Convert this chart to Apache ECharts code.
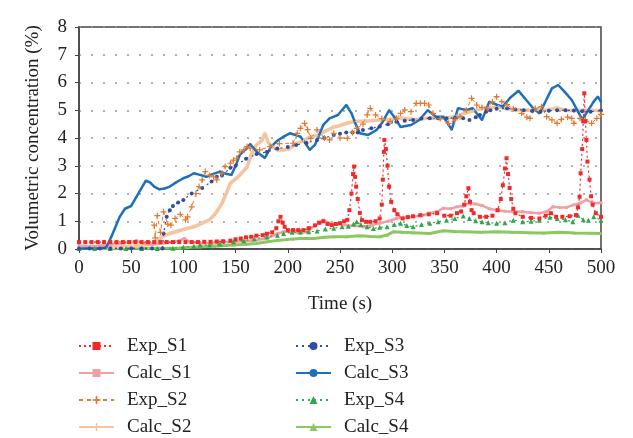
<!DOCTYPE html>
<html>
<head>
<meta charset="utf-8">
<script src="https://cdn.jsdelivr.net/npm/echarts@6/dist/echarts.min.js"></script>
<style>
html, body { margin: 0; padding: 0; background: #fff; }
#main { width: 633px; height: 438px; }
</style>
</head>
<body>
<div id="main"></div>
<script>
var dom = document.getElementById("main");
var myChart = echarts.init(dom);

// [time (s), volumetric concentration (%)]
var expS1 = [[0,0.25],[6,0.25],[12,0.25],[18,0.25],[24,0.25],[30,0.25],[36,0.25],[42,0.25],[48,0.25],[54,0.25],[60,0.25],[66,0.25],[72,0.25],[78,0.25],[84,0.25],[90,0.25],[96,0.25],[102,0.25],[108,0.25],[114,0.25],[120,0.26],[126,0.26],[132,0.27],[138,0.28],[145,0.3],[150,0.35],[155,0.38],[160,0.42],[165,0.44],[170,0.48],[176,0.5],[180,0.55],[185,0.6],[189,0.75],[191,1.0],[193,1.16],[195,0.95],[197,0.8],[200,0.68],[205,0.68],[210,0.68],[215,0.68],[220,0.75],[226,0.85],[230,0.95],[234,1.0],[238,0.9],[242,0.86],[246,0.9],[250,0.93],[254,1.0],[257,1.05],[259,1.4],[261,2.0],[262.5,2.7],[263.5,2.97],[264.5,2.6],[265.5,2.25],[267,1.8],[269,1.3],[271,1.04],[275,0.98],[279,0.98],[284,1.0],[288,1.1],[290,1.6],[291,2.5],[292,3.5],[292.5,3.93],[294,3.6],[295.5,3.0],[297,2.25],[299,1.7],[302,1.4],[305,1.25],[310,1.1],[315,1.15],[320,1.18],[327,1.22],[335,1.25],[343,1.29],[350,1.2],[356,1.2],[362,1.29],[366,1.35],[369,1.6],[371,1.9],[373,2.19],[374.5,1.7],[376,1.4],[378,1.29],[384,1.16],[390,1.16],[396,1.2],[401,1.4],[404,1.8],[406,2.3],[408,2.9],[409.5,3.27],[411,2.7],[412.5,2.2],[414,1.8],[416,1.45],[418,1.29],[425,1.16],[433,1.12],[441,1.1],[447,1.2],[452,1.29],[457,1.16],[463,1.16],[470,1.18],[476,1.22],[478,1.5],[479.5,1.88],[480.5,2.73],[482,3.6],[483,4.6],[484,5.61],[485,4.6],[486,3.93],[487,3.15],[489,2.5],[490.5,1.9],[492,1.6],[495,1.29],[500,1.16]];

var calcS1 = [[0,0.12],[10,0.1],[20,0.12],[30,0.15],[40,0.2],[50,0.25],[55,0.3],[60,0.22],[70,0.15],[80,0.2],[90,0.25],[96,0.3],[101,0.38],[106,0.25],[116,0.2],[130,0.22],[148,0.26],[165,0.3],[180,0.38],[190,0.55],[196,0.62],[204,0.62],[212,0.56],[220,0.65],[226,0.85],[231,0.93],[234,1.04],[240,0.93],[248,0.9],[256,0.86],[264,0.84],[272,0.8],[280,0.85],[288,0.93],[296,1.0],[304,1.1],[312,1.13],[320,1.16],[328,1.2],[336,1.29],[343,1.35],[349,1.47],[356,1.45],[362,1.52],[368,1.55],[374,1.65],[380,1.62],[386,1.57],[393,1.45],[400,1.4],[408,1.36],[416,1.34],[425,1.34],[433,1.31],[441,1.29],[448,1.35],[454,1.52],[460,1.5],[467,1.5],[474,1.59],[480,1.65],[486,1.77],[492,1.65],[500,1.67]];

var expS2 = [[72,0.86],[73,0.4],[75,1.2],[78,0.6],[81,1.34],[85,0.9],[88,0.86],[92,1.1],[97,1.25],[102,1.05],[104,1.16],[108,1.52],[112,2.0],[115,2.25],[118,2.49],[121,2.79],[125,2.65],[129,2.6],[132,2.49],[137,2.73],[140,2.97],[145,3.09],[148,3.2],[151,3.27],[154,3.5],[158,3.57],[161,3.69],[164,3.63],[173,3.57],[183,3.69],[192,3.8],[205,3.81],[209,4.17],[212,4.35],[216,4.53],[219,4.3],[222,3.99],[228,4.29],[235,4.0],[240,3.93],[244,4.17],[250,4.0],[257,3.99],[262,4.2],[266,4.35],[272,4.5],[276,4.83],[279,5.07],[284,4.83],[290,4.7],[298,4.59],[304,4.7],[308,4.89],[312,5.01],[318,4.95],[323,5.25],[327,5.25],[331,5.25],[335,5.19],[339,4.89],[346,4.7],[354,4.53],[360,4.65],[365,4.77],[371,5.0],[376,5.43],[381,5.19],[386,5.1],[391,5.07],[396,5.3],[400,5.49],[405,5.31],[410,5.2],[416,5.05],[424,4.89],[429,4.75],[432,4.71],[437,5.07],[443,5.13],[448,4.77],[453,4.65],[458,4.53],[462,4.67],[468,4.75],[472,4.71],[474,4.53],[480,4.71],[485,4.65],[491,4.53],[496,4.71],[500,4.85]];

var calcS2 = [[0,0.05],[30,0.05],[50,0.1],[60,0.12],[71,0.2],[80,0.45],[87,0.56],[95,0.65],[103,0.74],[110,0.8],[119,0.95],[125,1.05],[129,1.2],[133,1.4],[137,1.65],[141,2.0],[145,2.37],[151,2.55],[156,2.75],[161,2.95],[165,3.4],[170,3.75],[175,3.9],[178,4.17],[181,3.85],[185,3.69],[190,3.57],[196,3.57],[201,3.6],[208,3.8],[215,3.9],[222,4.05],[228,4.08],[236,4.25],[243,4.38],[250,4.45],[258,4.55],[266,4.6],[274,4.6],[282,4.63],[290,4.65],[298,4.68],[306,4.72],[314,4.7],[322,4.66],[330,4.7],[338,4.72],[346,4.7],[354,4.72],[362,4.8],[370,4.9],[378,4.98],[386,5.07],[394,5.1],[402,5.12],[410,5.05],[420,5.02],[430,5.0],[440,5.0],[450,5.02],[458,5.08],[466,5.0],[474,4.98],[482,5.0],[490,5.0],[500,4.98]];

var expS3 = [[0,0.02],[10,0.02],[20,0.02],[30,0.02],[40,0.02],[50,0.02],[60,0.02],[70,0.02],[80,0.02],[81,0.56],[84,1.16],[87,1.4],[90,1.55],[95,1.68],[100,1.77],[108,2.0],[118,2.2],[127,2.43],[132,2.6],[137,2.65],[145,2.93],[150,3.0],[160,3.25],[170,3.42],[180,3.5],[190,3.62],[200,3.68],[208,3.75],[218,3.82],[228,3.93],[235,4.0],[244,4.11],[250,4.15],[256,4.2],[262,4.2],[267,4.2],[272,4.29],[280,4.35],[288,4.41],[296,4.5],[304,4.59],[312,4.62],[320,4.65],[328,4.7],[336,4.71],[344,4.71],[352,4.71],[360,4.72],[368,4.71],[374,4.65],[380,4.75],[384,4.83],[390,4.95],[394,5.0],[400,5.05],[410,5.07],[418,5.03],[426,5.0],[434,4.97],[442,4.95],[450,4.98],[458,5.0],[466,5.0],[474,4.99],[482,4.96],[490,4.95],[500,4.99]];

var calcS3 = [[0,0.02],[10,0.02],[20,0.02],[26,0.05],[31,0.44],[39,1.16],[44,1.45],[50,1.55],[55,1.88],[60,2.2],[64,2.46],[68,2.4],[72,2.25],[77,2.15],[82,2.18],[87,2.25],[93,2.4],[100,2.55],[105,2.62],[110,2.73],[116,2.67],[122,2.6],[128,2.7],[135,2.79],[140,2.72],[146,2.67],[150,3.0],[154,3.39],[160,3.6],[164,3.78],[168,3.6],[172,3.45],[178,3.28],[184,3.69],[190,3.9],[196,4.05],[202,4.17],[212,4.05],[217,3.8],[221,3.57],[226,3.75],[234,4.47],[240,4.71],[248,4.83],[256,5.19],[261,4.89],[265,4.5],[269,4.17],[277,4.11],[285,4.29],[291,4.59],[297,5.0],[303,4.71],[308,4.4],[318,4.47],[326,4.65],[334,5.0],[342,4.77],[349,4.77],[357,4.3],[363,5.07],[371,5.01],[377,5.07],[386,4.65],[393,5.31],[400,5.2],[406,5.13],[413,5.45],[421,5.7],[427,5.43],[435,5.07],[441,4.89],[446,5.25],[453,5.79],[459,5.91],[465,5.67],[472,5.37],[478,4.95],[482,4.67],[488,5.01],[493,5.31],[497,5.49],[500,5.3]];

var expS4 = [[0,0.02],[15,0.02],[30,0.02],[45,0.02],[60,0.02],[75,0.02],[90,0.03],[100,0.06],[110,0.1],[116,0.14],[125,0.15],[135,0.18],[148,0.26],[158,0.3],[168,0.36],[180,0.44],[190,0.5],[196,0.56],[204,0.6],[212,0.62],[220,0.62],[228,0.65],[236,0.72],[244,0.75],[252,0.8],[258,0.82],[263,0.9],[266,0.98],[270,0.88],[276,0.8],[282,0.74],[288,0.78],[295,0.8],[302,0.88],[308,0.93],[314,0.85],[320,0.8],[328,0.88],[336,0.93],[344,0.98],[352,1.04],[360,1.1],[368,1.19],[374,1.1],[380,1.02],[386,0.98],[392,0.95],[400,0.93],[408,0.95],[416,1.04],[425,0.98],[433,1.0],[441,1.04],[451,1.14],[458,1.1],[466,1.05],[473,0.98],[478,1.22],[483,1.05],[488,1.04],[493,1.16],[500,1.04]];

var calcS4 = [[0,0.03],[50,0.03],[96,0.04],[116,0.08],[130,0.1],[148,0.14],[160,0.17],[170,0.2],[180,0.26],[193,0.32],[205,0.36],[212,0.38],[225,0.38],[235,0.42],[244,0.44],[256,0.44],[269,0.48],[280,0.45],[288,0.44],[295,0.5],[301,0.62],[310,0.6],[320,0.59],[336,0.56],[349,0.66],[360,0.63],[368,0.62],[385,0.6],[400,0.62],[415,0.6],[432,0.59],[445,0.58],[460,0.6],[475,0.58],[490,0.57],[500,0.56]];

var legendLeft = ['Exp_S1', 'Calc_S1', 'Exp_S2', 'Calc_S2'];
var legendRight = ['Exp_S3', 'Calc_S3', 'Exp_S4', 'Calc_S4'];

var serif = 'Liberation Serif';
var plusPath = 'path://M4,0H6V4H10V6H6V10H4V6H0V4H4Z';

function mk(name, data, color, lineType, width, symbol, size) {
    return {
        name: name,
        type: 'line',
        data: data,
        symbol: symbol,
        symbolSize: size,
        showSymbol: true,
        showAllSymbol: true,
        lineStyle: { color: color, width: width, type: lineType },
        itemStyle: { color: color, borderWidth: 0 }
    };
}

var series = [
    mk('Calc_S4', calcS4, '#8cc860', 'solid', 3, 'triangle', 3),
    mk('Calc_S2', calcS2, '#f5c4a0', 'solid', 3.5, plusPath, 4),
    mk('Calc_S1', calcS1, '#f0a0a4', 'solid', 2.5, 'rect', 3),
    mk('Exp_S4', expS4, '#2ea84a', [2, 4], 1.2, 'triangle', 5),
    mk('Calc_S3', calcS3, '#1f6fba', 'solid', 2.5, 'circle', 2),
    mk('Exp_S3', expS3, '#2e4ea3', [2, 4], 1.2, 'circle', 4),
    mk('Exp_S2', expS2, '#e07a30', [4, 4], 1, plusPath, 6),
    mk('Exp_S1', expS1, '#ee2a2a', [2, 3], 1.2, 'rect', 4)
];

var legendBase = {
    orient: 'vertical',
    top: 336,
    padding: 0,
    itemWidth: 35,
    itemHeight: 10,
    itemGap: 7,
    textStyle: { fontFamily: serif, fontSize: 19, lineHeight: 20, color: '#222', padding: [0, 0, 0, 8] }
};

option = {
    animation: false,
    backgroundColor: '#fff',
    textStyle: { fontFamily: serif },
    grid: {
        left: 79, right: 32, top: 27, bottom: 189,
        outerBoundsMode: 'none',
        show: true,
        borderColor: '#444',
        borderWidth: 1.5
    },
    legend: [
        Object.assign({}, legendBase, { left: 78, data: legendLeft }),
        Object.assign({}, legendBase, { left: 295, data: legendRight })
    ],
    xAxis: {
        type: 'value',
        min: 0, max: 500, interval: 50,
        name: 'Time (s)',
        nameLocation: 'middle',
        nameGap: 46,
        nameTextStyle: { fontFamily: serif, fontSize: 19, color: '#222' },
        axisLine: { lineStyle: { color: '#444', width: 1.5 } },
        axisTick: { show: true, inside: false, length: 4, lineStyle: { color: '#444' } },
        axisLabel: { fontFamily: serif, fontSize: 19, color: '#222', margin: 10 },
        splitLine: { show: false }
    },
    yAxis: {
        type: 'value',
        min: 0, max: 8, interval: 1,
        name: 'Volumetric concentration (%)',
        nameLocation: 'middle',
        nameGap: 36,
        nameTextStyle: { fontFamily: serif, fontSize: 19, color: '#222' },
        axisLine: { show: true, lineStyle: { color: '#444', width: 1.5 } },
        axisTick: { show: true, inside: false, length: 4, lineStyle: { color: '#444' } },
        axisLabel: { fontFamily: serif, fontSize: 19, color: '#222', margin: 12 },
        splitLine: { show: true, lineStyle: { color: '#999', width: 1.5, type: [2, 10] } }
    },
    series: series
};

if (option && typeof option === "object") {
    myChart.setOption(option, true);
}
</script>
</body>
</html>
